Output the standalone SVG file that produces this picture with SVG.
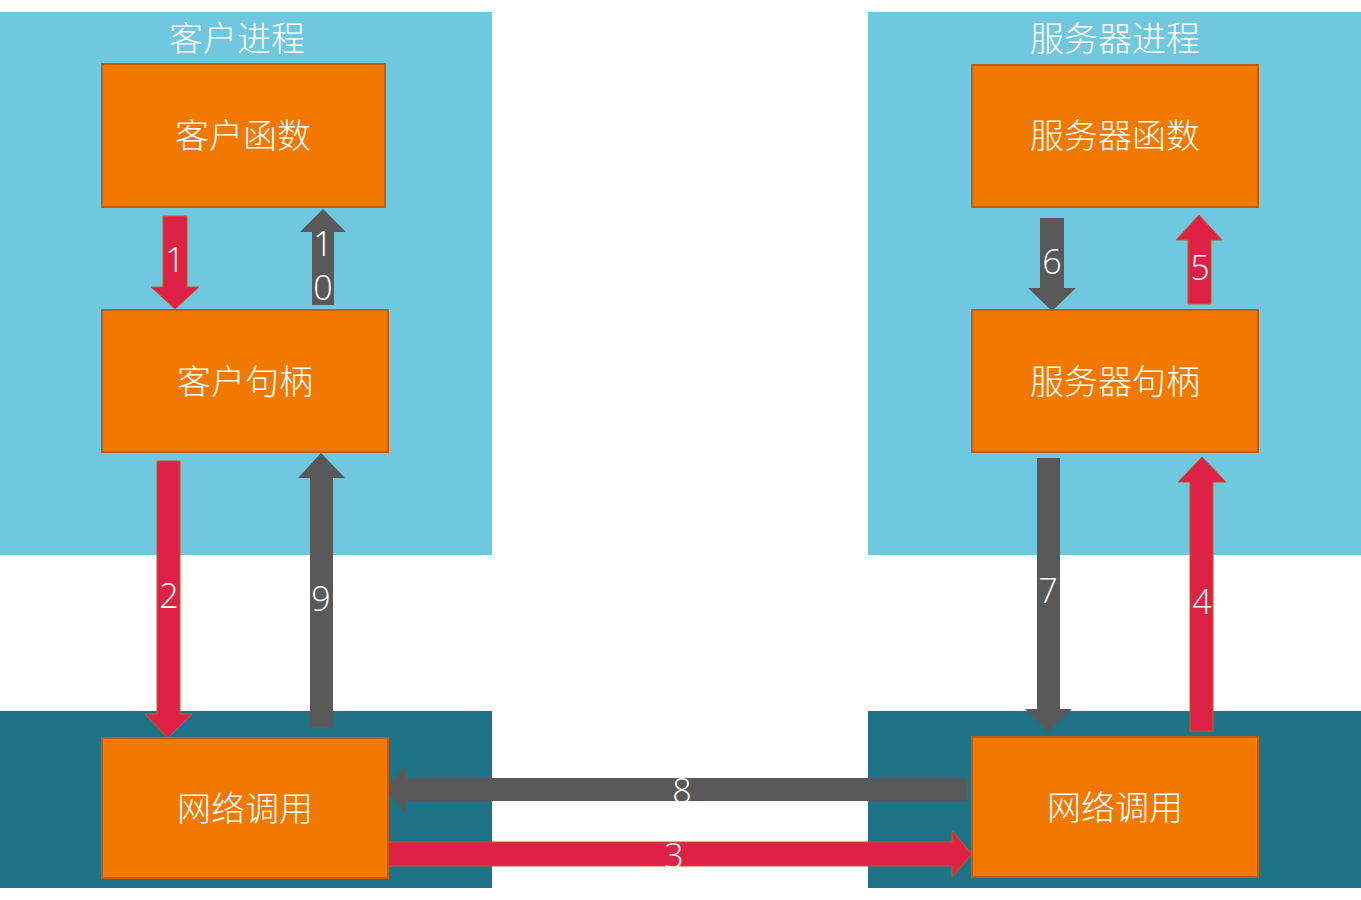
<svg xmlns="http://www.w3.org/2000/svg" width="1361" height="900" viewBox="0 0 1361 900">
<style>
.lb{fill:#6FC8DF}.dk{fill:#1E7387}
.box{fill:#F27800;stroke:#C55A11;stroke-width:2}
.t{fill:#fff;font-family:"Noto Sans CJK SC","Noto Sans",sans-serif;font-size:34px;text-anchor:middle;font-weight:300}
.n{fill:#fff;font-family:"Open Sans","Noto Sans",sans-serif;font-size:34px;text-anchor:middle;font-weight:300}
.r{fill:#DE2147;stroke:#C55A11;stroke-width:1}.g{fill:#595959}
</style>
<rect class="lb" x="0" y="12" width="492" height="543"/>
<rect class="lb" x="868" y="12" width="493" height="543"/>
<rect class="dk" x="0" y="711" width="492" height="177"/>
<rect class="dk" x="868" y="711" width="493" height="177"/>
<text class="t" x="237" y="51">客户进程</text>
<text class="t" x="1115" y="51">服务器进程</text>
<g id="connectors">
<polygon class="r" points="163,216 187,216 187,287 199,287 175,309 151,287 163,287"/>
<polygon class="g" points="312,305 334,305 334,232 346,232 323,209 300,232 312,232"/>
<polygon class="r" points="157,461 180,461 180,714 192,714 168,738 145,714 157,714"/>
<polygon class="g" points="310,727 333,727 333,478 345,478 321,453 298,478 310,478"/>
<polygon class="g" points="1040,218 1064,218 1064,288 1076,288 1052,311 1028,288 1040,288"/>
<polygon class="r" points="1188,304 1211,304 1211,240 1222,240 1199,215 1176,240 1188,240"/>
<polygon class="g" points="1037,458 1060,458 1060,709 1072,709 1048,732 1025,709 1037,709"/>
<polygon class="r" points="1190,731 1213,731 1213,482 1226,482 1202,457 1178,482 1190,482"/>
<polygon class="g" points="967,778 967,801 405,801 405,812 385,789 405,766 405,778"/>
<polygon class="r" points="388,842 388,866 952,866 952,877 972,854 952,831 952,842"/>
<text class="n" x="175" y="272">1</text>
<text class="n" x="323" y="256">1</text>
<text class="n" x="323" y="300">0</text>
<text class="n" x="169" y="608">2</text>
<text class="n" x="321" y="611">9</text>
<text class="n" x="1052" y="274">6</text>
<text class="n" x="1200" y="280">5</text>
<text class="n" x="1048" y="603">7</text>
<text class="n" x="1202" y="614">4</text>
<text class="n" x="682" y="803">8</text>
<text class="n" x="674" y="868">3</text>
</g>
<g id="n1"><rect class="box" x="102" y="64" width="283" height="143"/><text class="t" x="243" y="148">客户函数</text></g>
<g id="n2"><rect class="box" x="102" y="310" width="286" height="142"/><text class="t" x="245" y="394">客户句柄</text></g>
<g id="n3"><rect class="box" x="102" y="738" width="286" height="140"/><text class="t" x="245" y="821">网络调用</text></g>
<g id="n4"><rect class="box" x="972" y="65" width="286" height="142"/><text class="t" x="1115" y="148">服务器函数</text></g>
<g id="n5"><rect class="box" x="972" y="310" width="286" height="142"/><text class="t" x="1115" y="394">服务器句柄</text></g>
<g id="n6"><rect class="box" x="972" y="737" width="286" height="140"/><text class="t" x="1115" y="820">网络调用</text></g>
</svg>
